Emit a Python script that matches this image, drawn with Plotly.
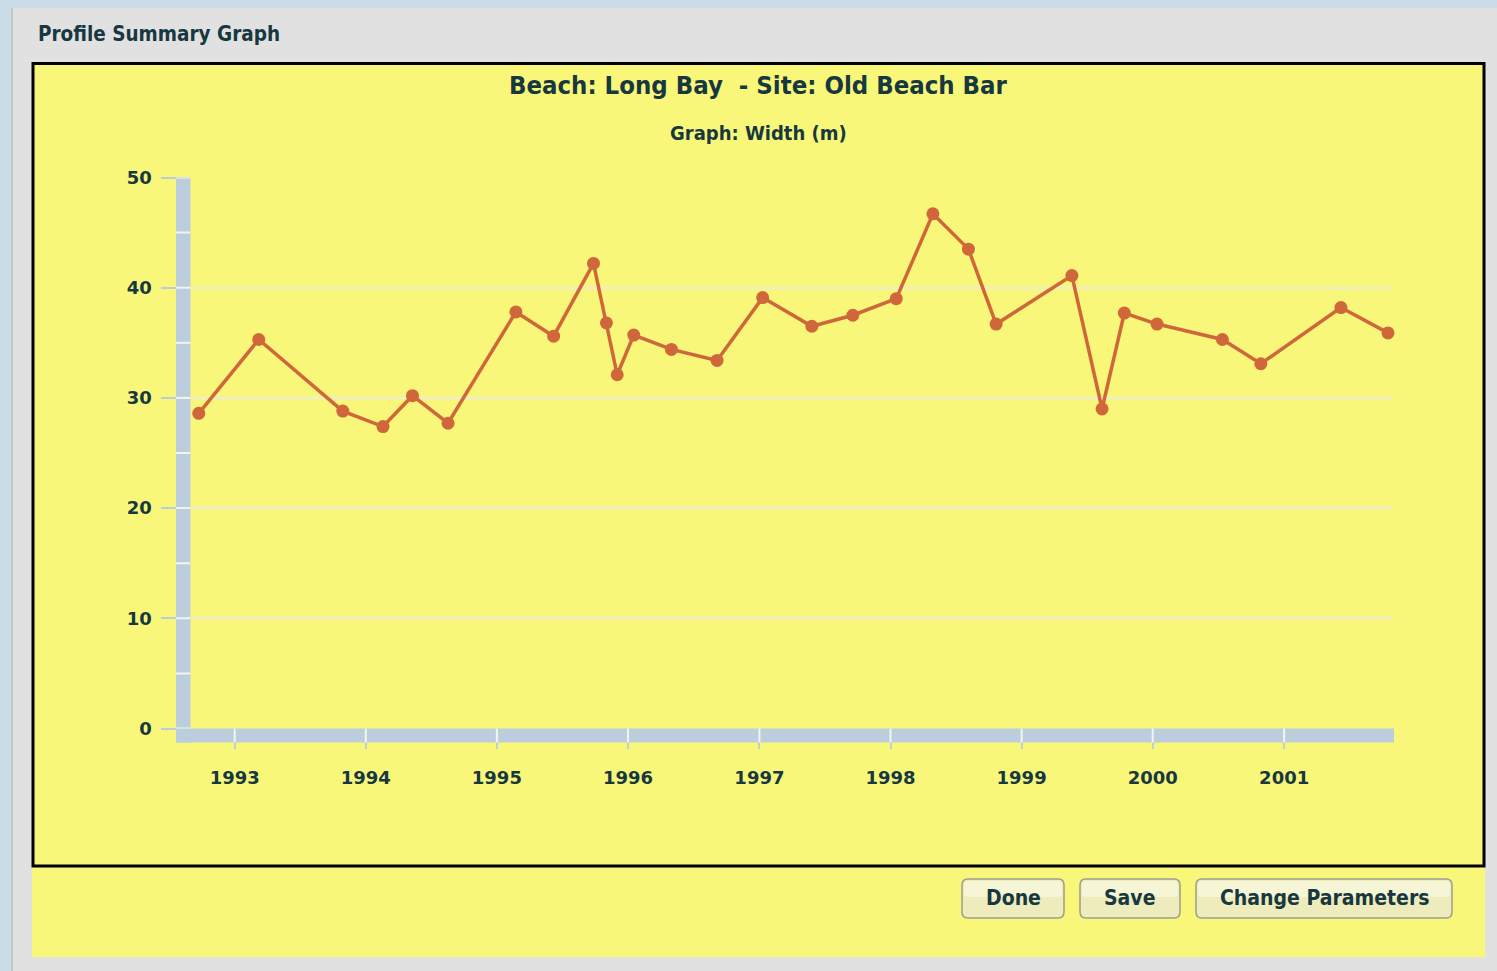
import plotly.graph_objects as go

# ---------------- data ----------------
survey_dates = [
    "1992-09-23", "1993-03-09", "1993-10-29", "1994-02-18", "1994-05-11",
    "1994-08-18", "1995-02-23", "1995-06-08", "1995-09-27", "1995-11-02",
    "1995-12-02", "1996-01-17", "1996-05-01", "1996-09-05", "1997-01-10",
    "1997-05-27", "1997-09-18", "1998-01-17", "1998-04-29", "1998-08-06",
    "1998-10-22", "1999-05-21", "1999-08-13", "1999-10-14", "2000-01-13",
    "2000-07-13", "2000-10-28", "2001-06-08", "2001-10-17",
]
width_m = [
    28.6, 35.3, 28.8, 27.4, 30.2,
    27.7, 37.8, 35.6, 42.2, 36.8,
    32.1, 35.7, 34.4, 33.4, 39.1,
    36.5, 37.5, 39.0, 46.7, 43.5,
    36.7, 41.1, 29.0, 37.7, 36.7,
    35.3, 33.1, 38.2, 35.9,
]
year_ticks = ["1993-01-01", "1994-01-01", "1995-01-01", "1996-01-01", "1997-01-01",
              "1998-01-01", "1999-01-01", "2000-01-01", "2001-01-01"]
year_labels = ["1993", "1994", "1995", "1996", "1997", "1998", "1999", "2000", "2001"]
y_major = [0, 10, 20, 30, 40, 50]
y_minor = [5, 15, 25, 35, 45]
x_range = ["1992-08-31", "2001-10-31"]
y_range = [0, 50]

chart_title = "Beach: Long Bay  - Site: Old Beach Bar"
chart_subtitle = "Graph: Width (m)"
panel_title = "Profile Summary Graph"
buttons = ["Done", "Save", "Change Parameters"]

# ---------------- styling ----------------
W, H = 1497, 971
YELLOW = "#f8f77a"
PANEL = "#e1e1e1"
PAGE_BLUE = "#c9dce8"
AXBAR = "#bccedd"
GRID = "#ebebe4"
LINE = "#d0673a"
TEXT = "#17383f"
TITLE_FONT = "DejaVu Sans Condensed"
TICK_FONT = "DejaVu Sans"


def X(px):
    return px / W


def Y(py):
    return 1 - py / H


def rect(x0, y0, x1, y1, fill, line_color=None, line_width=0, layer="below"):
    return dict(type="rect", xref="paper", yref="paper",
                x0=X(x0), x1=X(x1), y0=Y(y1), y1=Y(y0),
                fillcolor=fill, layer=layer,
                line=dict(color=line_color or fill, width=line_width))


def rounded(x0, y0, x1, y1, r, fill, line_color, lw):
    def p(x, y):
        return f"{X(x):.6f},{Y(y):.6f}"
    path = (f"M {p(x0 + r, y0)} L {p(x1 - r, y0)} Q {p(x1, y0)} {p(x1, y0 + r)} "
            f"L {p(x1, y1 - r)} Q {p(x1, y1)} {p(x1 - r, y1)} "
            f"L {p(x0 + r, y1)} Q {p(x0, y1)} {p(x0, y1 - r)} "
            f"L {p(x0, y0 + r)} Q {p(x0, y0)} {p(x0 + r, y0)} Z")
    return dict(type="path", xref="paper", yref="paper", path=path,
                fillcolor=fill, line=dict(color=line_color, width=lw), layer="above")


fig = go.Figure()
fig.add_trace(go.Scatter(
    x=survey_dates, y=width_m, mode="lines+markers",
    line=dict(color=LINE, width=3.5),
    marker=dict(color=LINE, size=13),
    cliponaxis=False, showlegend=False, hoverinfo="x+y",
))

shapes = []
shapes.append(rect(0, 0, 12, H, PAGE_BLUE))
shapes.append(rect(0, 0, W, 8, PAGE_BLUE))
shapes.append(rect(11, 8, 13, H, "#c8c8c8"))
shapes.append(rect(32, 866, 1485, 957, YELLOW))
shapes.append(rect(33, 63.5, 1484, 866, YELLOW, "#000000", 3))

shapes.append(dict(type="rect", xref="paper", yref="paper",
                   x0=X(176), x1=X(190.5), y0=Y(742.5), y1=Y(177.5),
                   fillcolor=AXBAR, line=dict(width=0), layer="above"))
shapes.append(dict(type="rect", xref="paper", yref="paper",
                   x0=X(176), x1=X(1394), y0=Y(742.5), y1=Y(728.5),
                   fillcolor=AXBAR, line=dict(width=0), layer="above"))
for v in y_major + y_minor:
    shapes.append(dict(type="line", xref="paper", yref="y",
                       x0=X(176), x1=X(190.5), y0=v, y1=v,
                       line=dict(color="#f4f4f0", width=2), layer="above"))
for d in year_ticks:
    shapes.append(dict(type="line", xref="x", yref="paper",
                       x0=d, x1=d, y0=Y(742.5), y1=Y(728.5),
                       line=dict(color="#f4f4f0", width=2), layer="above"))

bx = [(962, 1064), (1080, 1180), (1196, 1452)]
for (x0, x1) in bx:
    shapes.append(rounded(x0, 879, x1, 918, 6, "#eeecbc", "#9d9d8e", 1.5))
    shapes.append(rounded(x0 + 2, 881, x1 - 2, 897, 4, "#f6f5d6", "#f6f5d6", 0))

annotations = [
    dict(text=f"<b>{panel_title}</b>", x=X(36), y=Y(34), xref="paper", yref="paper",
         xanchor="left", yanchor="middle", showarrow=False,
         font=dict(family=TITLE_FONT, size=20.5, color=TEXT)),
    dict(text=f"<b>{chart_title}</b>", x=X(759), y=Y(85.5), xref="paper", yref="paper",
         xanchor="center", yanchor="middle", showarrow=False,
         font=dict(family=TITLE_FONT, size=25.5, color=TEXT)),
    dict(text=f"<b>{chart_subtitle}</b>", x=X(758), y=Y(133), xref="paper", yref="paper",
         xanchor="center", yanchor="middle", showarrow=False,
         font=dict(family=TITLE_FONT, size=20, color=TEXT)),
]
for (x0, x1), label in zip(bx, buttons):
    annotations.append(dict(text=f"<b>{label}</b>", x=X((x0 + x1) / 2), y=Y(898),
                            xref="paper", yref="paper", xanchor="center", yanchor="middle",
                            showarrow=False,
                            font=dict(family=TITLE_FONT, size=21, color=TEXT)))

fig.update_layout(
    width=W, height=H,
    autosize=False,
    margin=dict(l=0, r=0, t=0, b=0, pad=0, autoexpand=False),
    paper_bgcolor=PANEL,
    plot_bgcolor=YELLOW,
    showlegend=False,
    shapes=shapes,
    annotations=annotations,
    xaxis=dict(
        domain=[X(190.5), X(1393)],
        type="date", range=x_range, automargin=False,
        tickvals=year_ticks, ticktext=year_labels,
        ticks="outside", ticklen=19, tickwidth=2, tickcolor=AXBAR,
        showgrid=False, zeroline=False, showline=False,
        tickfont=dict(family=TICK_FONT, size=18, color=TEXT, weight="bold"),
        ticklabelstandoff=14,
    ),
    yaxis=dict(
        domain=[Y(728.5), Y(177.5)],
        range=y_range, automargin=False,
        tickvals=y_major,
        ticks="outside", ticklen=29, tickwidth=2, tickcolor=AXBAR,
        showgrid=True, gridcolor=GRID, gridwidth=2,
        zeroline=False, showline=False,
        tickfont=dict(family=TICK_FONT, size=18, color=TEXT, weight="bold"),
        ticklabelstandoff=5,
    ),
)

post = (
    "document.documentElement.style.margin='0';"
    "document.documentElement.style.overflow='hidden';"
    "document.body.style.margin='0';"
    "document.body.style.overflow='hidden';"
    "document.body.style.height='971px';"
    "var gd=document.querySelector('.plotly-graph-div');"
    "gd.style.position='fixed';gd.style.left='0px';gd.style.top='0px';"
)
fig.write_html("out.html", config={"displayModeBar": False}, post_script=post)
